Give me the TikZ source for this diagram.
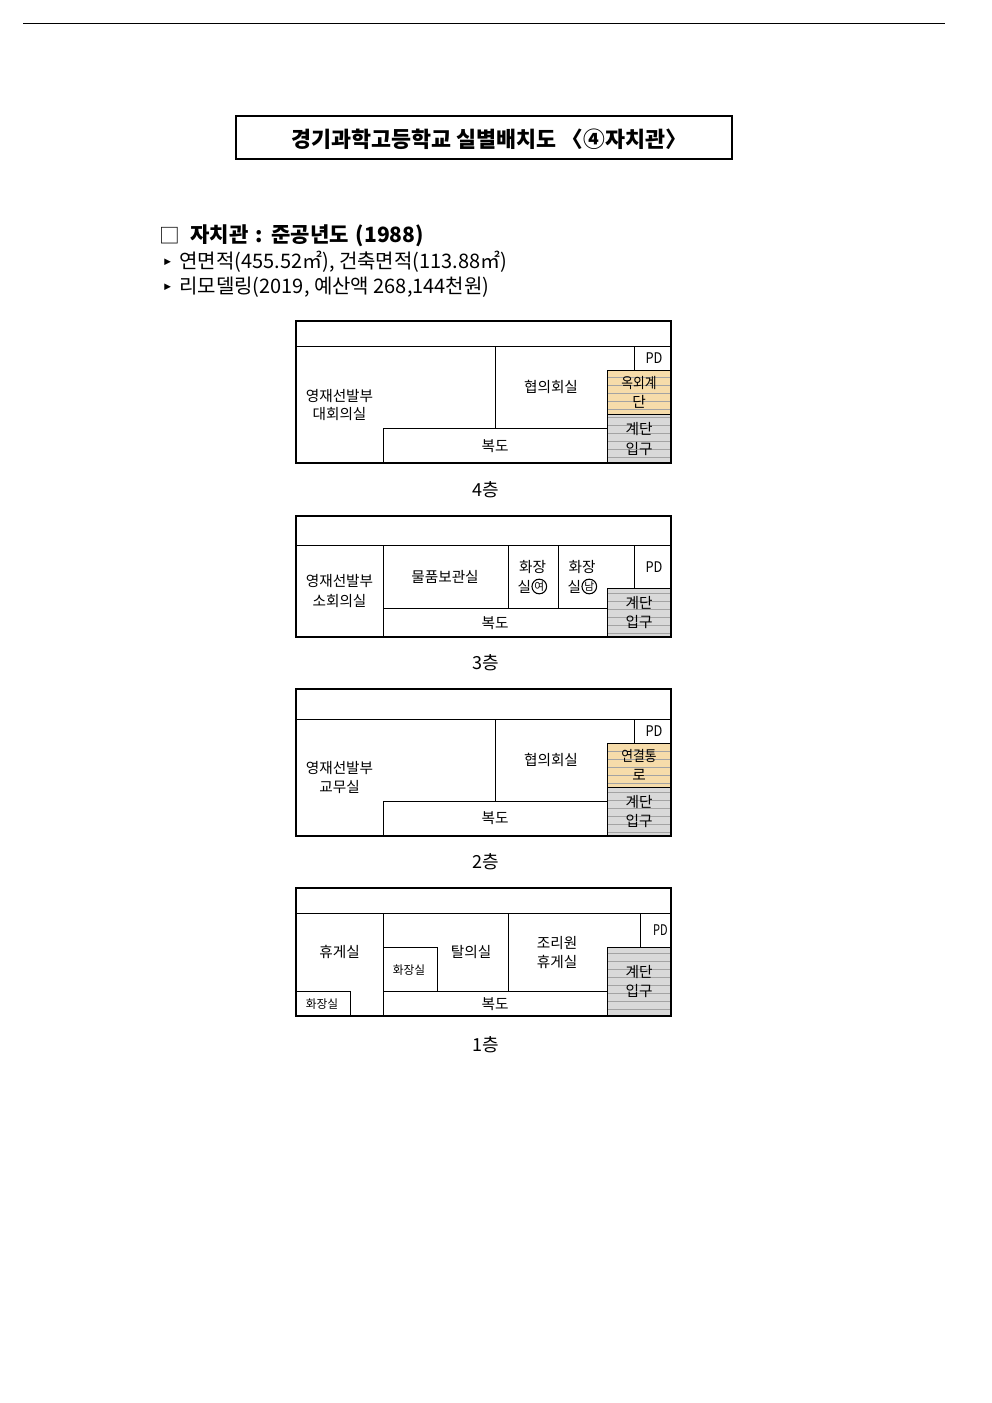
\documentclass[tikz,border=0pt]{standalone}
\usepackage{fontspec}
\setmainfont{Noto Sans CJK KR}
\newfontfamily\symfont{DejaVu Sans}
\definecolor{stripegray}{HTML}{A3A3A3}
\definecolor{warm}{HTML}{F6DCAA}
\definecolor{cool}{HTML}{D9D9D9}
\tikzset{
  txt/.style={inner sep=0pt,yshift=-0.75pt,font=\fontsize{11}{12}\selectfont,text=black},
  small/.style={inner sep=0pt,yshift=-0.75pt,font=\fontsize{8.8}{9}\selectfont,text=black},
  level/.style={inner sep=0pt,yshift=-0.75pt,font=\fontsize{13.5}{14}\selectfont,text=black},
  wall/.style={draw=black,line width=1.5pt},
  part/.style={draw=black,line width=0.75pt},
  stripe/.style={draw=stripegray,line width=0.7pt},
  circ/.style={draw=black,line width=0.8pt,circle,minimum size=11pt,inner sep=0pt,font=\fontsize{8}{8}\selectfont},
  head/.style={inner sep=0pt,anchor=west,yshift=-0.75pt,text=black}
}
\newcommand{\narrow}[1]{\scalebox{.87}[1]{#1}}
% #1 top, #2 bottom, #3 fill, #4 first stripe, #5 last stripe index
\newcommand{\stairblock}[5]{%
  \fill[#3] (607.3,#1) rectangle (671,#2);
  \foreach \k in {0,...,#5}{\draw[stripe] (607.3,{#4+8*\k}) -- (671,{#4+8*\k});}
  \draw[part] (607.3,#1) rectangle (671,#2);
}
\begin{document}
\begin{tikzpicture}[x=0.75pt,y=-0.75pt]
\useasboundingbox (0,0) rectangle (992,1403);
\fill[white] (0,0) rectangle (992,1403);
\draw[black,line width=0.75pt] (23,23) -- (945,23);
\draw[black,line width=1.5pt] (236,116) rectangle (732,159);
\node[inner sep=0pt,yshift=-0.75pt,font=\fontsize{16.3}{17}\selectfont\bfseries] (title) at (489.5,138) {경기과학고등학교 실별배치도 〈④자치관〉};

\node[head,font=\fontsize{15.5}{16}\selectfont] (sq) at (159,235) {□};
\node[head,font=\fontsize{15.8}{16}\selectfont\bfseries] (sec) at (190,235) {\spaceskip=.33em 자치관 : 준공년도 (1988)};
\node[head,font=\fontsize{6.5}{7}\selectfont\symfont] (b1) at (164,261) {▶};
\node[head,font=\fontsize{15}{16}\selectfont] (l1) at (179,261) {연면적(455.52㎡), 건축면적(113.88㎡)};
\node[head,font=\fontsize{6.5}{7}\selectfont\symfont] (b2) at (164,286) {▶};
\node[head,font=\fontsize{15}{16}\selectfont] (l2) at (179,286) {리모델링(2019, 예산액 268,144천원)};

% ---- 4th floor
\stairblock{370.3}{414.3}{warm}{377}{4}
\stairblock{414.3}{463}{cool}{417}{5}
\draw[part] (296,346.7) -- (671,346.7);
\draw[part] (495.3,346.7) -- (495.3,428.3);
\draw[part] (634.3,346.7) -- (634.3,370.3);
\draw[part] (383.3,463) -- (383.3,428.3) -- (607.3,428.3);
\draw[wall] (296,321) rectangle (671,463);
\node[txt] (a1) at (339.5,395) {영재선발부};
\node[txt] (a2) at (339.5,413) {대회의실};
\node[txt] (a3) at (551,386) {협의회실};
\node[txt] (a4) at (654,357) {\narrow{PD}};
\node[txt] (a5) at (639,382) {\narrow{옥외계}};
\node[txt] (a6) at (639,401) {단};
\node[txt] (a7) at (639,428) {계단};
\node[txt] (a8) at (639,448) {입구};
\node[txt] (a9) at (495,445) {복도};
\node[level] (a10) at (485.5,489) {4층};

% ---- 3rd floor
\stairblock{588.3}{637}{cool}{593}{5}
\draw[part] (296,545.3) -- (671,545.3);
\draw[part] (383.3,545.3) -- (383.3,637);
\draw[part] (383.3,608.3) -- (607.3,608.3);
\draw[part] (508.3,545.3) -- (508.3,608.3);
\draw[part] (558.3,545.3) -- (558.3,608.3);
\draw[part] (634.3,545.3) -- (634.3,588.3);
\draw[wall] (296,516) rectangle (671,637);
\node[txt] (b1a) at (339.5,580) {영재선발부};
\node[txt] (b2a) at (339.5,600) {소회의실};
\node[txt] (b3) at (445,576) {물품보관실};
\node[txt] (b4) at (532.5,566) {화장};
\node[txt] (b5) at (524.3,586) {실};
\node[circ] (b6) at (539.3,586.5) {여};
\node[txt] (b7) at (582,566) {화장};
\node[txt] (b8) at (574.3,586) {실};
\node[circ] (b9) at (589.3,586.5) {남};
\node[txt] (b10) at (654,566) {\narrow{PD}};
\node[txt] (b11) at (639,602) {계단};
\node[txt] (b12) at (639,621) {입구};
\node[txt] (b13) at (495,622) {복도};
\node[level] (b14) at (485.5,662) {3층};

% ---- 2nd floor
\stairblock{743.5}{787.3}{warm}{751}{4}
\stairblock{787.3}{836}{cool}{792}{5}
\draw[part] (296,719.5) -- (671,719.5);
\draw[part] (495.3,719.5) -- (495.3,801.5);
\draw[part] (634.3,719.5) -- (634.3,743.5);
\draw[part] (383.3,836) -- (383.3,801.5) -- (607.3,801.5);
\draw[wall] (296,689) rectangle (671,836);
\node[txt] (c1) at (339.5,767) {영재선발부};
\node[txt] (c2) at (339.5,786) {교무실};
\node[txt] (c3) at (551,759) {협의회실};
\node[txt] (c4) at (654,730) {\narrow{PD}};
\node[txt] (c5) at (639,755) {\narrow{연결통}};
\node[txt] (c6) at (639,774) {로};
\node[txt] (c7) at (639,801) {계단};
\node[txt] (c8) at (639,820) {입구};
\node[txt] (c9) at (495,817) {복도};
\node[level] (c10) at (485.5,861) {2층};

% ---- 1st floor
\stairblock{947.3}{1016}{cool}{953}{7}
\draw[part] (296,913.3) -- (671,913.3);
\draw[part] (383.3,913.3) -- (383.3,1016);
\draw[part] (508.3,913.3) -- (508.3,991.3);
\draw[part] (383.3,991.3) -- (607.3,991.3);
\draw[part] (640.3,913.3) -- (640.3,947.3);
\draw[part] (383.3,947.3) -- (437.3,947.3) -- (437.3,991.3);
\draw[part] (296,991.3) -- (350.3,991.3) -- (350.3,1016);
\draw[wall] (296,888) rectangle (671,1016);
\node[txt] (d1) at (339.5,951) {휴게실};
\node[small] (d2) at (409,969) {화장실};
\node[small] (d3) at (322,1003) {화장실};
\node[txt] (d4) at (471,951) {탈의실};
\node[txt] (d5) at (557,942) {조리원};
\node[txt] (d6) at (557,961) {휴게실};
\node[txt] (d7) at (660.5,929) {\scalebox{.75}[1]{PD}};
\node[txt] (d8) at (639,971) {계단};
\node[txt] (d9) at (639,990) {입구};
\node[txt] (d10) at (495,1003) {복도};
\node[level] (d11) at (485.5,1044) {1층};
\end{tikzpicture}
\end{document}
